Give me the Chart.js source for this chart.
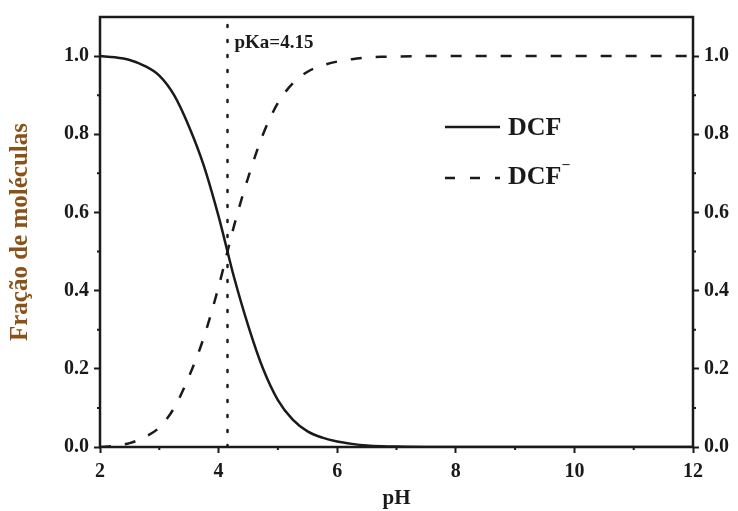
<!DOCTYPE html>
<html>
<head>
<meta charset="utf-8">
<script src="https://cdn.jsdelivr.net/npm/chart.js@4"></script>
<style>
  html, body { margin: 0; padding: 0; background: #fff; }
  #wrap { width: 738px; height: 511px; }
</style>
</head>
<body>
<div id="wrap"><canvas id="c"></canvas></div>
<script>
// values
const pH = [2, 2.25, 2.5, 2.75, 3, 3.25, 3.5, 3.75, 4, 4.15, 4.25, 4.5, 4.75, 5, 5.25, 5.5, 5.75, 6, 6.25, 6.5, 6.75, 7, 7.5, 8, 9, 10, 11, 12];
const dcf = [1.00, 0.997, 0.99, 0.975, 0.95, 0.90, 0.82, 0.72, 0.59, 0.50, 0.44, 0.31, 0.20, 0.12, 0.07, 0.04, 0.024, 0.014, 0.008, 0.004, 0.002, 0.001, 0, 0, 0, 0, 0, 0];
const dcfAnion = [0.00, 0.003, 0.01, 0.025, 0.05, 0.10, 0.18, 0.28, 0.41, 0.50, 0.56, 0.69, 0.80, 0.88, 0.93, 0.96, 0.976, 0.986, 0.992, 0.996, 0.998, 0.999, 1, 1, 1, 1, 1, 1];
const pKa = 4.15;
const xTicks = [2, 4, 6, 8, 10, 12];
const xMinor = [3, 5, 7, 9, 11];
const yTicks = [0, 0.2, 0.4, 0.6, 0.8, 1.0];
const yMinor = [0.1, 0.3, 0.5, 0.7, 0.9];

const INK = '#1a1a1a';
const SERIF = "'Liberation Serif', 'Times New Roman', serif";

const pts = ys => pH.map((x, i) => ({ x, y: ys[i] }));

// frame, minor ticks, pKa label and legend
const decor = {
  id: 'decor',
  afterDraw(chart) {
    const { ctx, chartArea: a, scales } = chart;
    const xs = scales.x, ys = scales.y;
    ctx.save();
    ctx.strokeStyle = INK;
    ctx.lineWidth = 2.5;
    ctx.strokeRect(a.left, a.top, a.right - a.left, a.bottom - a.top);

    ctx.lineWidth = 2;
    ctx.beginPath();
    xMinor.forEach(v => {
      const px = xs.getPixelForValue(v);
      ctx.moveTo(px, a.bottom); ctx.lineTo(px, a.bottom + 3);
    });
    yMinor.forEach(v => {
      const py = ys.getPixelForValue(v);
      ctx.moveTo(a.left, py); ctx.lineTo(a.left - 3, py);
      ctx.moveTo(a.right, py); ctx.lineTo(a.right + 3, py);
    });
    ctx.stroke();

    ctx.fillStyle = INK;
    ctx.font = 'bold 19px ' + SERIF;
    ctx.textBaseline = 'middle';
    ctx.textAlign = 'left';
    ctx.fillText('pKa=4.15', xs.getPixelForValue(pKa) + 7, 43);

    // legend
    ctx.lineWidth = 2.5;
    ctx.beginPath();
    ctx.moveTo(445, 127); ctx.lineTo(500, 127);
    ctx.stroke();
    ctx.setLineDash([10, 15]);
    ctx.beginPath();
    ctx.moveTo(445, 178); ctx.lineTo(500, 178);
    ctx.stroke();
    ctx.setLineDash([]);
    ctx.font = 'bold 26px ' + SERIF;
    ctx.fillText('DCF', 508, 128);
    ctx.fillText('DCF', 508, 177);
    const w = ctx.measureText('DCF').width;
    ctx.font = 'bold 14px ' + SERIF;
    ctx.fillText('–', 508 + w + 1, 164);
    ctx.restore();
  }
};

const tickFont = { family: SERIF, size: 20, weight: 'bold' };
const yAxis = (pos) => ({
  type: 'linear',
  position: pos,
  min: 0,
  max: 1.1,
  afterBuildTicks: s => { s.ticks = yTicks.map(value => ({ value })); },
  afterFit: s => { s.width = pos === 'left' ? 100 : 45; },
  border: { display: false },
  grid: { drawOnChartArea: false, drawTicks: true, tickLength: 6, tickWidth: 2, tickColor: INK },
  ticks: { color: INK, font: tickFont, padding: 5, callback: v => v.toFixed(1) },
  title: pos === 'left'
    ? { display: true, text: 'Fração de moléculas', color: '#8a5218', font: { family: SERIF, size: 25, weight: 'bold' }, padding: { top: 6, bottom: 0 } }
    : { display: false }
});

new Chart(document.getElementById('c'), {
  type: 'line',
  data: {
    datasets: [
      { label: 'DCF', data: pts(dcf), borderColor: INK, borderWidth: 2.5, pointRadius: 0, cubicInterpolationMode: 'monotone', yAxisID: 'y' },
      { label: 'DCF-', data: pts(dcfAnion), borderColor: INK, borderWidth: 2.5, borderDash: [11, 14], pointRadius: 0, cubicInterpolationMode: 'monotone', yAxisID: 'y' },
      { label: 'pKa', data: [{ x: pKa, y: 0 }, { x: pKa, y: 1.1 }], borderColor: INK, borderWidth: 2.5, borderDash: [2, 13], borderCapStyle: 'round', pointRadius: 0, yAxisID: 'y' }
    ]
  },
  options: {
    responsive: true,
    maintainAspectRatio: false,
    animation: false,
    layout: { padding: { top: 15, left: 0, right: 0, bottom: 0 } },
    plugins: { legend: { display: false }, tooltip: { enabled: false } },
    scales: {
      x: {
        type: 'linear',
        min: 2,
        max: 12,
        afterBuildTicks: s => { s.ticks = xTicks.map(value => ({ value })); },
        afterFit: s => { s.height = 64; },
        border: { display: false },
        grid: { drawOnChartArea: false, drawTicks: true, tickLength: 6, tickWidth: 2, tickColor: INK },
        ticks: { color: INK, font: tickFont, padding: 7, maxRotation: 0 },
        title: { display: true, text: 'pH', color: INK, font: { family: SERIF, size: 21, weight: 'bold' }, padding: { top: 0, bottom: 0 } }
      },
      y: yAxis('left'),
      y2: yAxis('right')
    }
  },
  plugins: [decor]
});
</script>
</body>
</html>
